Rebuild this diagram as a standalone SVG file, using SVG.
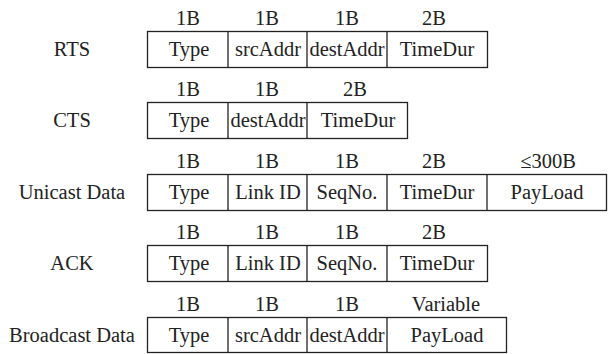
<svg xmlns="http://www.w3.org/2000/svg" width="608" height="354" viewBox="0 0 608 354">
<style>
text{font-family:"Liberation Serif","Times New Roman",serif;font-size:20.5px;fill:#222;text-anchor:middle}
.box,.div{fill:none;stroke:#222;stroke-width:1.3}
</style>
<rect width="608" height="354" fill="#fff"/>
<g id="rts">
<text x="72" y="56">RTS</text>
<text x="188" y="25">1B</text><text x="267" y="25">1B</text><text x="347" y="25">1B</text><text x="434" y="25">2B</text>
<rect class="box" x="147.5" y="31.5" width="340" height="36"/>
<line class="div" x1="228" y1="31.5" x2="228" y2="67.5"/><line class="div" x1="307" y1="31.5" x2="307" y2="67.5"/><line class="div" x1="387" y1="31.5" x2="387" y2="67.5"/>
<text x="189" y="56">Type</text><text x="268" y="56">srcAddr</text><text x="347" y="56">destAddr</text><text x="437" y="56">TimeDur</text>
</g>
<g id="cts">
<text x="72" y="127">CTS</text>
<text x="188" y="96">1B</text><text x="267" y="96">1B</text><text x="355" y="96">2B</text>
<rect class="box" x="147.5" y="102.5" width="260" height="36"/>
<line class="div" x1="228" y1="102.5" x2="228" y2="138.5"/><line class="div" x1="307" y1="102.5" x2="307" y2="138.5"/>
<text x="189" y="127">Type</text><text x="268" y="127">destAddr</text><text x="358" y="127">TimeDur</text>
</g>
<g id="unicast">
<text x="72" y="199">Unicast Data</text>
<text x="188" y="168">1B</text><text x="267" y="168">1B</text><text x="347" y="168">1B</text><text x="434" y="168">2B</text><text x="548" y="168">≤300B</text>
<rect class="box" x="147.5" y="174.5" width="459" height="36"/>
<line class="div" x1="228" y1="174.5" x2="228" y2="210.5"/><line class="div" x1="307" y1="174.5" x2="307" y2="210.5"/><line class="div" x1="387" y1="174.5" x2="387" y2="210.5"/><line class="div" x1="487" y1="174.5" x2="487" y2="210.5"/>
<text x="189" y="199">Type</text><text x="268" y="199">Link ID</text><text x="347" y="199">SeqNo.</text><text x="437" y="199">TimeDur</text><text x="547" y="199">PayLoad</text>
</g>
<g id="ack">
<text x="72" y="270">ACK</text>
<text x="188" y="239">1B</text><text x="267" y="239">1B</text><text x="347" y="239">1B</text><text x="434" y="239">2B</text>
<rect class="box" x="147.5" y="245.5" width="340" height="36"/>
<line class="div" x1="228" y1="245.5" x2="228" y2="281.5"/><line class="div" x1="307" y1="245.5" x2="307" y2="281.5"/><line class="div" x1="387" y1="245.5" x2="387" y2="281.5"/>
<text x="189" y="270">Type</text><text x="268" y="270">Link ID</text><text x="347" y="270">SeqNo.</text><text x="437" y="270">TimeDur</text>
</g>
<g id="broadcast">
<text x="72" y="342">Broadcast Data</text>
<text x="188" y="311">1B</text><text x="267" y="311">1B</text><text x="347" y="311">1B</text><text x="446" y="311">Variable</text>
<rect class="box" x="147.5" y="317.5" width="359" height="35"/>
<line class="div" x1="228" y1="317.5" x2="228" y2="352.5"/><line class="div" x1="307" y1="317.5" x2="307" y2="352.5"/><line class="div" x1="387" y1="317.5" x2="387" y2="352.5"/>
<text x="189" y="342">Type</text><text x="268" y="342">srcAddr</text><text x="347" y="342">destAddr</text><text x="447" y="342">PayLoad</text>
</g>
<g id="connectors"></g>
</svg>
